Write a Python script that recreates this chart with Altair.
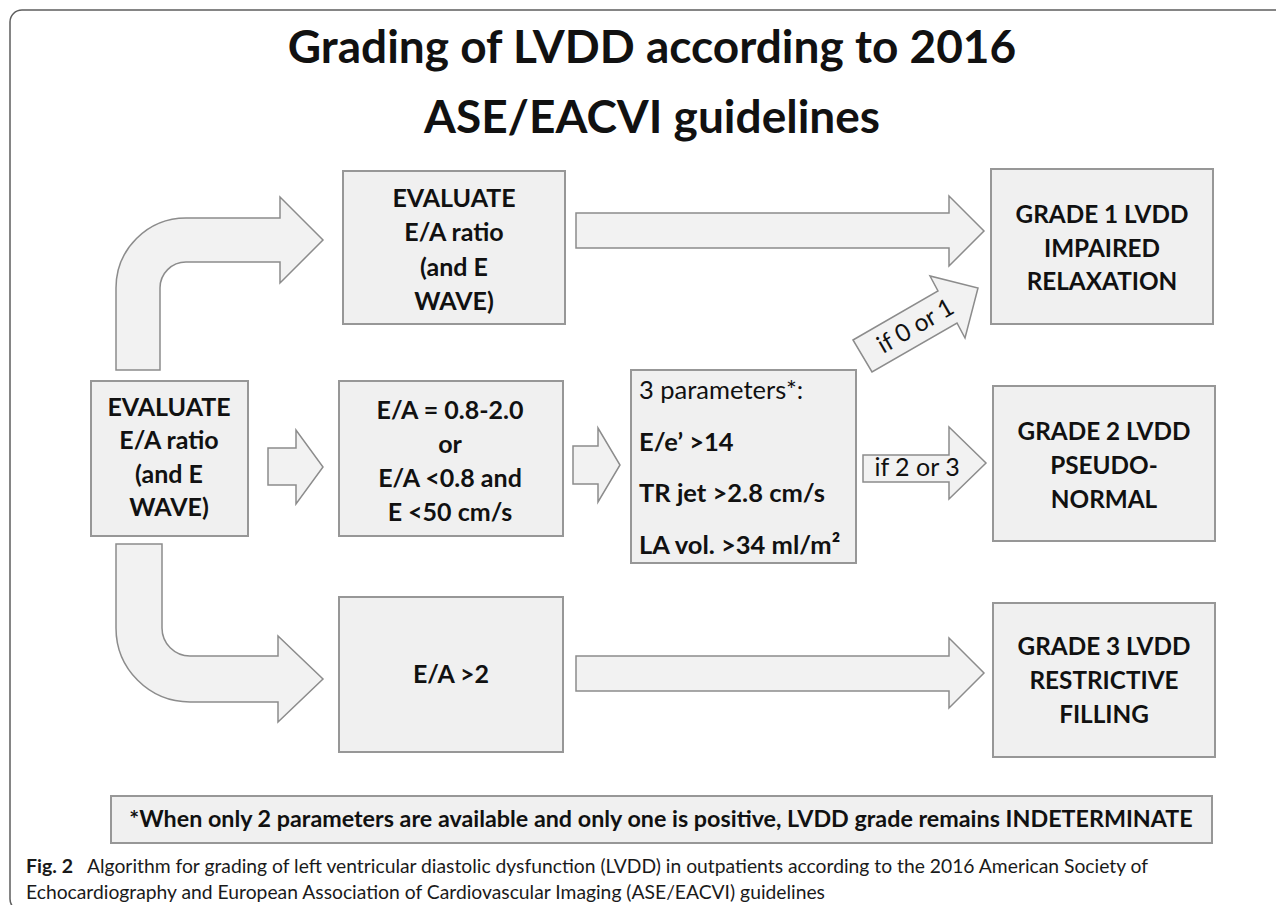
import altair as alt
import pandas as pd

# ---------------- text content ----------------
TITLE_LINES = ["Grading of LVDD according to 2016", "ASE/EACVI guidelines"]
START_LINES = ["EVALUATE", "E/A ratio", "(and E", "WAVE)"]
TOP_LINES = ["EVALUATE", "E/A ratio", "(and E", "WAVE)"]
MID_LINES = ["E/A = 0.8-2.0", "or", "E/A <0.8 and", "E <50 cm/s"]
BOT_LINES = ["E/A >2"]
PARAM_HEADER = ["3 parameters*:"]
PARAM_LINES = ["E/e\u2019 >14", "TR jet >2.8 cm/s", "LA vol. >34 ml/m\u00b2"]
GRADE1_LINES = ["GRADE 1 LVDD", "IMPAIRED", "RELAXATION"]
GRADE2_LINES = ["GRADE 2 LVDD", "PSEUDO-", "NORMAL"]
GRADE3_LINES = ["GRADE 3 LVDD", "RESTRICTIVE", "FILLING"]
ARROW_LABELS = ["if 0 or 1", "if 2 or 3"]
FOOTNOTE = ["*When only 2 parameters are available and only one is positive, LVDD grade remains INDETERMINATE"]
CAPTION_TAG = ["Fig. 2"]
CAPTION_LINES = [
    "Algorithm for grading of left ventricular diastolic dysfunction (LVDD) in outpatients according to the 2016 American Society of",
    "Echocardiography and European Association of Cardiovascular Imaging (ASE/EACVI) guidelines",
]

# ---------------- layout (image pixel coordinates) ----------------
W, H = 1268, 897
FONT = "Lato"
BOX_FILL, BOX_STROKE = "#f0f0f0", "#979797"
ARROW_FILL, ARROW_STROKE = "#f2f2f2", "#8c8c8c"
INK = "#111111"

BOXES = {  # x0, y0, x1, y1
    "start": (91, 381, 248, 536),
    "top": (343, 171, 565, 324),
    "mid": (339, 381, 563, 536),
    "params": (631, 370, 856, 563),
    "bot": (339, 597, 563, 752),
    "grade1": (991, 169, 1213, 324),
    "grade2": (993, 386, 1215, 541),
    "grade3": (993, 603, 1215, 757),
    "note": (111, 796, 1212, 843),
}
FRAME = (10, 10, 1300, 911)


def straight(x0, xb, xt, ys0, ys1, yh0, yh1, yt):
    return (f"M{x0},{ys0} L{xb},{ys0} L{xb},{yh0} L{xt},{yt} "
            f"L{xb},{yh1} L{xb},{ys1} L{x0},{ys1} Z")


ARROW_PATHS = [
    # curved arrow up to the top row
    "M116,370 L116,288 A70,70 0 0 1 186,218 L280,218 L280,197 L323,240 "
    "L280,283 L280,262 L186,262 A26,26 0 0 0 160,288 L160,370 Z",
    # curved arrow down to the bottom row
    "M116,544 L162,544 L162,628 A28,28 0 0 0 190,656 L278,656 L278,636 "
    "L323,679 L278,722 L278,702 L190,702 A74,74 0 0 1 116,628 Z",
    straight(576, 949, 984, 213, 248, 196, 266, 231),
    straight(576, 949, 984, 656, 691, 638, 708, 673),
    straight(268, 296, 323, 448, 485, 430, 504, 467),
    straight(573, 598, 620, 446, 484, 428, 502, 465),
    straight(863, 949, 986, 455, 482, 427, 499, 463),
    # diagonal "if 0 or 1" arrow
    "M853,340 L938,291 L930,276 L978,288 L965,338 L957,323 L872,372 Z",
]

xs = alt.Scale(domain=[8, 8 + W], range=[0, W], nice=False, zero=False)
ys = alt.Scale(domain=[8, 8 + H], range=[0, H], nice=False, zero=False)


def X(f):
    return alt.X(f, type="quantitative", scale=xs, axis=None)


def Y(f):
    return alt.Y(f, type="quantitative", scale=ys, axis=None)


def X2(f):
    return alt.X2(f)


def Y2(f):
    return alt.Y2(f)


# ---------- rects ----------
box_df = pd.DataFrame(
    [{"name": k, "x0": v[0], "y0": v[1], "x1": v[2], "y1": v[3]} for k, v in BOXES.items()]
)
boxes = alt.Chart(box_df).mark_rect(
    fill=BOX_FILL, stroke=BOX_STROKE, strokeWidth=2
).encode(x=X("x0"), x2=X2("x1"), y=Y("y0"), y2=Y2("y1"))

frame_df = pd.DataFrame([{"x0": FRAME[0], "y0": FRAME[1], "x1": FRAME[2], "y1": FRAME[3]}])
frame = alt.Chart(frame_df).mark_rect(
    filled=False, stroke="#5e5e5e", strokeWidth=1.5, cornerRadius=12
).encode(x=X("x0"), x2=X2("x1"), y=Y("y0"), y2=Y2("y1"))

# ---------- arrows (custom symbol paths in pixel units, anchored at origin) ----------
arrow_df = pd.DataFrame({"x": [0] * len(ARROW_PATHS), "y": [0] * len(ARROW_PATHS), "path": ARROW_PATHS})
arrows = alt.Chart(arrow_df).mark_point(
    size=4, filled=True, fill=ARROW_FILL, stroke=ARROW_STROKE, strokeWidth=1.5, opacity=1
).encode(x=X("x"), y=Y("y"), shape=alt.Shape("path:N", scale=None))


# ---------- text ----------
def block(lines, cx, cy, step):
    n = len(lines)
    return [{"x": cx, "y": cy + (i - (n - 1) / 2) * step, "text": t} for i, t in enumerate(lines)]


def text_layer(rows, size, weight="bold", align="center", baseline="middle", angle=0, color=INK):
    kw = dict(font=FONT, fontSize=size, fontWeight=weight, align=align, baseline=baseline, color=color)
    if angle:
        kw["angle"] = angle
    return alt.Chart(pd.DataFrame(rows)).mark_text(**kw).encode(x=X("x"), y=Y("y"), text="text:N")


left_rows = (
    block(START_LINES, 169, 458, 33.4)
    + block(TOP_LINES, 454, 250.5, 34.5)
    + block(MID_LINES, 450, 462, 34)
    + block(BOT_LINES, 451, 675, 34)
)
grade_rows = (
    block(GRADE1_LINES, 1102, 249.5, 33.5)
    + block(GRADE2_LINES, 1104, 467, 34)
    + block(GRADE3_LINES, 1104, 682, 34)
)
left_text = text_layer(left_rows, 25)
grade_text = text_layer(grade_rows, 24.3)
param_head = text_layer(block(PARAM_HEADER, 639, 391, 0), 25.5, weight="normal", align="left")
param_text = text_layer(block(PARAM_LINES, 639, 494, 51.5), 25.5, align="left")
note_text = text_layer(block(FOOTNOTE, 661, 820, 0), 23.3)
lab02 = text_layer([{"x": 916, "y": 327, "text": ARROW_LABELS[0]}], 24.5, weight="normal", angle=330)
lab23 = text_layer([{"x": 917, "y": 468, "text": ARROW_LABELS[1]}], 25, weight="normal")
title = text_layer(block(TITLE_LINES, 652, 84, 70), 46)
cap_tag = text_layer([{"x": 26, "y": 873, "text": CAPTION_TAG[0]}], 19.5, align="left", baseline="alphabetic", color="#1a1a1a")
cap_text = text_layer(
    [{"x": 87, "y": 873, "text": CAPTION_LINES[0]}, {"x": 26, "y": 899, "text": CAPTION_LINES[1]}],
    19.3, weight="normal", align="left", baseline="alphabetic", color="#1a1a1a",
)

chart = alt.layer(
    frame, arrows, boxes, left_text, grade_text, param_head, param_text, note_text,
    lab02, lab23, title, cap_tag, cap_text,
).properties(
    width=W, height=H, autosize=alt.AutoSizeParams(type="none"), padding=0,
).configure_view(strokeWidth=0)

chart.save("out.html", embed_options={"renderer": "svg", "actions": False})
